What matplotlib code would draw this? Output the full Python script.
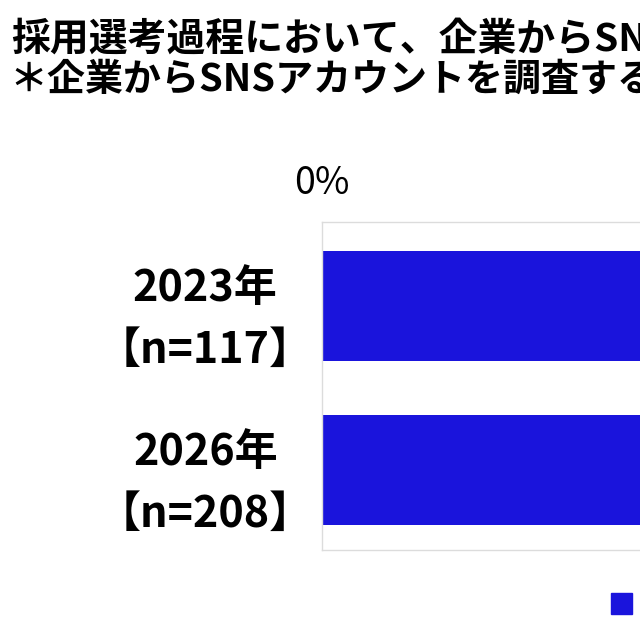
import matplotlib
matplotlib.use("Agg")
import matplotlib.pyplot as plt
import matplotlib.transforms as mtransforms
from matplotlib.patches import Patch

plt.rcParams['font.family'] = ['Noto Sans CJK JP', 'DejaVu Sans']

title_line1 = "採用選考過程において、企業からSNSアカウントを調査されたことはありますか"
title_line2 = "＊企業からSNSアカウントを調査することについて"
categories = ["2023年\n【n=117】", "2026年\n【n=208】"]
series_names = ["ある", "ない"]
yes_values = [38.5, 41.3]
no_values = [61.5, 58.7]
xticks = [0, 20, 40, 60, 80, 100]
xtick_labels = ["0%", "20%", "40%", "60%", "80%", "100%"]

blue = '#1a14dc'
grey = '#bfbfbf'

fig = plt.figure(figsize=(6.4, 6.4), dpi=100)
W = 2200
ax = fig.add_axes([322/640, 90/640, W/640, 328/640])

ypos = list(range(len(categories)))
ax.barh(ypos, yes_values, height=0.67, color=blue, label=series_names[0])
ax.barh(ypos, no_values, left=yes_values, height=0.67, color=grey, label=series_names[1])

ax.set_xlim(0, 100)
ax.set_ylim(1.49, -0.51)
ax.set_yticks(ypos)
ax.set_yticklabels(categories, fontsize=31, fontweight='bold', linespacing=1.5)
shift = mtransforms.ScaledTranslation(0, 4/100, fig.dpi_scale_trans)
for t in ax.get_yticklabels():
    t.set_ha('center')
    t.set_transform(t.get_transform() + shift)
ax.tick_params(axis='y', length=0, pad=84)

ax.xaxis.tick_top()
ax.set_xticks(xticks)
ax.set_xticklabels(xtick_labels, fontsize=27)
ax.tick_params(axis='x', length=0, pad=14)

for s in ['top', 'left', 'bottom', 'right']:
    ax.spines[s].set_color('#dcdcdc')
    ax.spines[s].set_linewidth(1.0)

fig.text(11/640, 1 - 20/640, title_line1, fontsize=28, fontweight='bold',
         va='top', ha='left')
fig.text(9/640, 1 - 60/640, title_line2, fontsize=27.4, fontweight='bold',
         va='top', ha='left')

handles = [Patch(color=blue), Patch(color=grey)]
fig.legend(handles, series_names, loc='upper left', bbox_to_anchor=(603/640, 1 - 582/640),
           ncol=2, frameon=False, fontsize=20, handlelength=0.75, handleheight=0.75,
           borderaxespad=0, borderpad=0.3, handletextpad=0.4)

fig.savefig("out.png", dpi=100)
